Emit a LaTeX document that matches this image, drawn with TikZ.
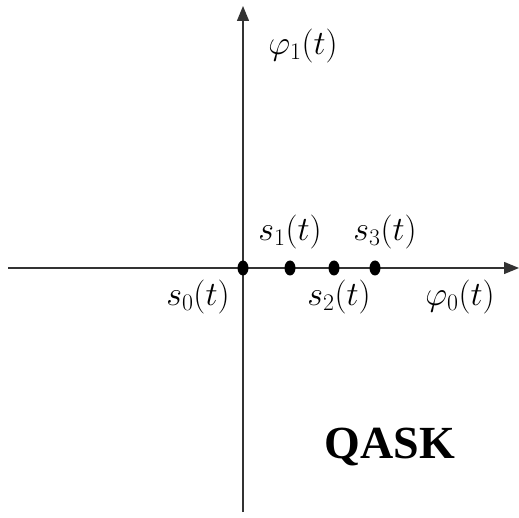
\documentclass[tikz,border=0pt]{standalone}
\usepackage{fix-cm}
\usepackage{fontspec}
\setmainfont{Liberation Serif}
\usepackage{amsmath}
\usetikzlibrary{arrows.meta}
\begin{document}
\begin{tikzpicture}[x=1pt,y=-1pt,
  axis/.style={draw=black!80,line width=1.3pt,-{Triangle[length=15pt,width=12pt]}},
  lbl/.style={inner sep=0pt,font=\fontsize{34}{34}\selectfont}]
\useasboundingbox (0,0) rectangle (519,518);
\coordinate (xl) at (8,268);
\coordinate (xr) at (519,268);
\coordinate (yb) at (243,512);
\coordinate (yt) at (243,6);
\draw[axis] (xl) -- (xr);
\draw[axis] (yb) -- (yt);
\fill (243,268) ellipse [x radius=5.5, y radius=7.5];
\fill (290,268) ellipse [x radius=5.5, y radius=7.5];
\fill (334,268) ellipse [x radius=5.5, y radius=7.5];
\fill (375,268) ellipse [x radius=5.5, y radius=7.5];
\node[lbl] (p1) at (303,46) {$\varphi_1(t)$};
\node[lbl] (s1) at (290,232) {$s_1(t)$};
\node[lbl] (s3) at (385,232) {$s_3(t)$};
\node[lbl] (s0) at (198,297) {$s_0(t)$};
\node[lbl] (s2) at (339,297) {$s_2(t)$};
\node[lbl] (p0) at (460,297) {$\varphi_0(t)$};
\node[inner sep=0pt,font=\fontsize{46}{46}\selectfont\bfseries] (q) at (390,447) {QASK};
\end{tikzpicture}
\end{document}
